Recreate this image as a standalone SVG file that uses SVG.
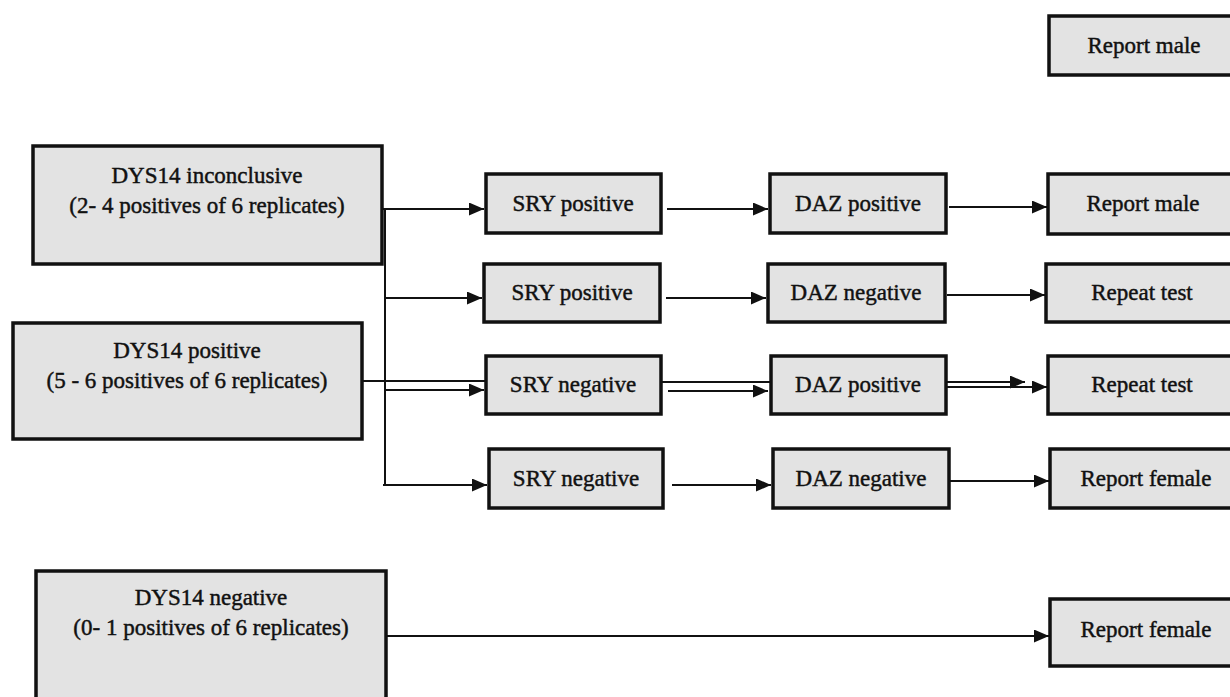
<svg xmlns="http://www.w3.org/2000/svg" width="1230" height="697" viewBox="0 0 1230 697">
<style>
.box{fill:#e3e3e3;stroke:#111;stroke-width:3.5}
.t{font-family:"Liberation Serif","Times New Roman",serif;font-size:23px;fill:#111;stroke:#111;stroke-width:0.45;text-anchor:middle}
.c{fill:none;stroke:#111;stroke-width:2}
</style>
<defs>
<marker id="ah" markerUnits="userSpaceOnUse" markerWidth="15" markerHeight="13" refX="15" refY="6.5" orient="auto">
<path d="M0,0 L15,6.5 L0,13 z" fill="#111"/>
</marker>
</defs>
<rect width="1230" height="697" fill="#fff"/>
<g id="connectors">
<path class="c" d="M383,209 H484" marker-end="url(#ah)"/>
<path class="c" d="M385,209 V485"/>
<path class="c" d="M384,298 H482" marker-end="url(#ah)"/>
<path class="c" d="M362,381 H486"/>
<path class="c" d="M385,390 H484" marker-end="url(#ah)"/>
<path class="c" d="M383,485 H487" marker-end="url(#ah)"/>
<path class="c" d="M667,209 H768" marker-end="url(#ah)"/>
<path class="c" d="M666,298 H766" marker-end="url(#ah)"/>
<path class="c" d="M662,382 H771"/>
<path class="c" d="M668,391 H768" marker-end="url(#ah)"/>
<path class="c" d="M672,485 H771" marker-end="url(#ah)"/>
<path class="c" d="M949,207 H1047" marker-end="url(#ah)"/>
<path class="c" d="M947,295 H1045" marker-end="url(#ah)"/>
<path class="c" d="M947,382 H1025" marker-end="url(#ah)"/>
<path class="c" d="M947,387 H1047" marker-end="url(#ah)"/>
<path class="c" d="M950,481 H1049" marker-end="url(#ah)"/>
<path class="c" d="M387,636 H1049" marker-end="url(#ah)"/>
</g>
<g id="dys14-inconclusive"><rect class="box" x="33" y="146" width="349" height="118"/>
<text class="t" x="207" y="183">DYS14 inconclusive</text><text class="t" x="207" y="213">(2- 4 positives of 6 replicates)</text></g>
<g id="dys14-positive"><rect class="box" x="13" y="323" width="349" height="116"/>
<text class="t" x="187" y="358">DYS14 positive</text><text class="t" x="187" y="388">(5 - 6 positives of 6 replicates)</text></g>
<g id="dys14-negative"><rect class="box" x="36" y="571" width="350" height="140"/>
<text class="t" x="211" y="605">DYS14 negative</text><text class="t" x="211" y="635">(0- 1 positives of 6 replicates)</text></g>
<g id="sry-pos-1"><rect class="box" x="486" y="174" width="175" height="59"/><text class="t" x="573" y="211">SRY positive</text></g>
<g id="sry-pos-2"><rect class="box" x="484" y="264" width="176" height="58"/><text class="t" x="572" y="300">SRY positive</text></g>
<g id="sry-neg-1"><rect class="box" x="486" y="356" width="175" height="58"/><text class="t" x="573" y="392">SRY negative</text></g>
<g id="sry-neg-2"><rect class="box" x="489" y="449" width="174" height="59"/><text class="t" x="576" y="486">SRY negative</text></g>
<g id="daz-pos-1"><rect class="box" x="770" y="174" width="176" height="59"/><text class="t" x="858" y="211">DAZ positive</text></g>
<g id="daz-neg-1"><rect class="box" x="768" y="264" width="177" height="58"/><text class="t" x="856" y="300">DAZ negative</text></g>
<g id="daz-pos-2"><rect class="box" x="771" y="356" width="175" height="58"/><text class="t" x="858" y="392">DAZ positive</text></g>
<g id="daz-neg-2"><rect class="box" x="773" y="449" width="176" height="59"/><text class="t" x="861" y="486">DAZ negative</text></g>
<g id="report-male-top"><rect class="box" x="1049" y="16" width="192" height="59"/><text class="t" x="1144" y="53">Report male</text></g>
<g id="report-male"><rect class="box" x="1048" y="174" width="192" height="60"/><text class="t" x="1143" y="211">Report male</text></g>
<g id="repeat-1"><rect class="box" x="1046" y="264" width="194" height="58"/><text class="t" x="1142" y="300">Repeat test</text></g>
<g id="repeat-2"><rect class="box" x="1048" y="356" width="192" height="58"/><text class="t" x="1142" y="392">Repeat test</text></g>
<g id="report-female-1"><rect class="box" x="1050" y="449" width="190" height="59"/><text class="t" x="1146" y="486">Report female</text></g>
<g id="report-female-2"><rect class="box" x="1050" y="599" width="190" height="67"/><text class="t" x="1146" y="637">Report female</text></g>
</svg>
